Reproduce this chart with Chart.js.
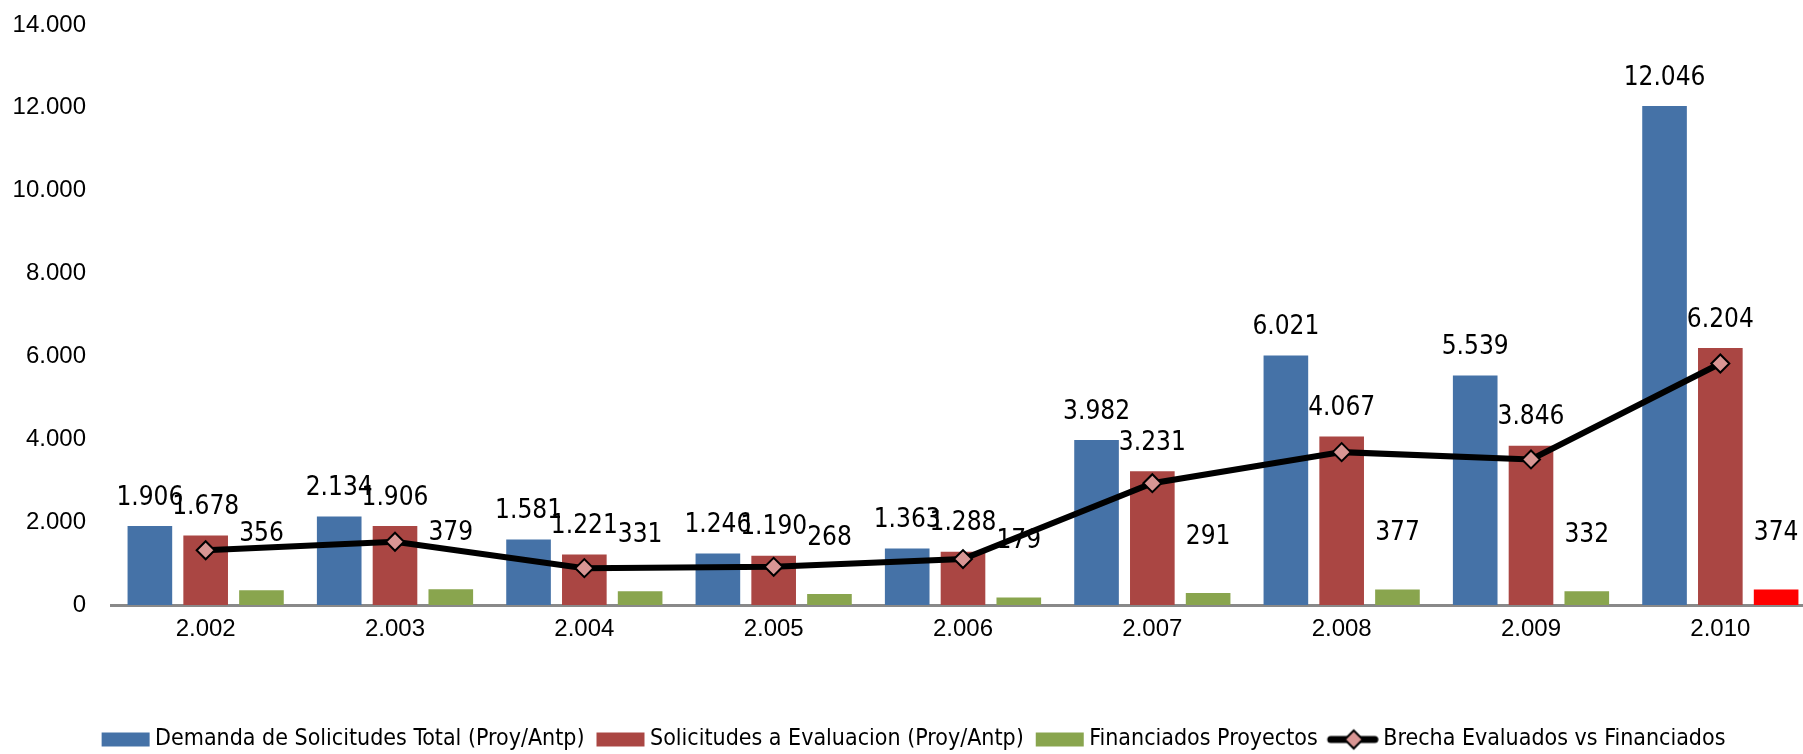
<!DOCTYPE html>
<html>
<head>
<meta charset="utf-8">
<title>Demanda de Solicitudes</title>
<script src="https://cdn.jsdelivr.net/npm/chart.js@4.4.1/dist/chart.umd.min.js"></script>
<style>
    html, body { margin: 0; padding: 0; background: #fff; overflow: hidden; }
    #wrap { position: relative; width: 1836px; height: 754px; }
</style>
</head>
<body>
<div id="wrap"><canvas id="chart"></canvas></div>
<script>
// ========== DATA ==========
const years = ['2.002', '2.003', '2.004', '2.005', '2.006', '2.007', '2.008', '2.009', '2.010'];
const demanda = [1906, 2134, 1581, 1246, 1363, 3982, 6021, 5539, 12046];
const evaluacion = [1678, 1906, 1221, 1190, 1288, 3231, 4067, 3846, 6204];
const financiados = [356, 379, 331, 268, 179, 291, 377, 332, 374];
const brecha = [1322, 1527, 890, 922, 1109, 2940, 3690, 3514, 5830];
const yTicks = [0, 2000, 4000, 6000, 8000, 10000, 12000, 14000];

const seriesNames = [
    'Demanda de Solicitudes Total (Proy/Antp)',
    'Solicitudes a Evaluacion (Proy/Antp)',
    'Financiados Proyectos',
    'Brecha Evaluados vs Financiados'
];

// ========== COLORS / FONTS ==========
const colors = {
    blue: '#4572A7',
    red: '#AA4643',
    green: '#89A54E',
    highlight: '#FF0000',
    diamond: '#D99694',
    axis: '#898989',
    text: '#000000'
};
const narrowFont = "'Liberation Sans Narrow', 'DejaVu Sans Condensed', 'Roboto Condensed', Roboto, sans-serif";
const tickFont = "'Liberation Sans', Arial, sans-serif";

function fmt(v) {
    return String(v).replace(/\B(?=(\d{3})+(?!\d))/g, '.');
}

// ========== LEGEND SWATCHES ==========
// image is centered on the legend box slot; visible swatch sits at px 19..67
function boxSwatch(color) {
    const c = document.createElement('canvas');
    c.width = 68; c.height = 16;
    const ctx = c.getContext('2d');
    ctx.fillStyle = color;
    ctx.fillRect(19, 1, 48, 14);
    return c;
}

function lineSwatch() {
    const c = document.createElement('canvas');
    c.width = 68; c.height = 24;
    const ctx = c.getContext('2d');
    ctx.strokeStyle = '#000';
    ctx.lineWidth = 7;
    ctx.lineCap = 'round';
    ctx.beginPath();
    ctx.moveTo(20, 12);
    ctx.lineTo(64, 12);
    ctx.stroke();
    ctx.beginPath();
    ctx.moveTo(43, 3); ctx.lineTo(52, 12); ctx.lineTo(43, 21); ctx.lineTo(34, 12); ctx.closePath();
    ctx.fillStyle = colors.diamond;
    ctx.fill();
    ctx.lineWidth = 2;
    ctx.stroke();
    return c;
}

const swatches = [boxSwatch(colors.blue), boxSwatch(colors.red), boxSwatch(colors.green), lineSwatch()];

// ========== VALUE LABELS ==========
const labelOffsets = [28, 28, 56];
const valueLabels = {
    id: 'valueLabels',
    afterDatasetsDraw(chart) {
        const ctx = chart.ctx;
        ctx.save();
        ctx.font = '26px ' + narrowFont;
        ctx.fillStyle = colors.text;
        ctx.textAlign = 'center';
        ctx.textBaseline = 'middle';
        [0, 1, 2].forEach(di => {
            const meta = chart.getDatasetMeta(di);
            const values = chart.data.datasets[di].data;
            meta.data.forEach((bar, i) => {
                ctx.fillText(fmt(values[i]), bar.x, bar.y - labelOffsets[di]);
            });
        });
        ctx.restore();
    }
};

// ========== CHART ==========
const greenColors = financiados.map((v, i) => i === financiados.length - 1 ? colors.highlight : colors.green);

new Chart(document.getElementById('chart'), {
    type: 'bar',
    data: {
        labels: years,
        datasets: [
            {
                label: seriesNames[0],
                data: demanda,
                backgroundColor: colors.blue,
                categoryPercentage: 0.884,
                barPercentage: 0.8,
                order: 1
            },
            {
                label: seriesNames[1],
                data: evaluacion,
                backgroundColor: colors.red,
                categoryPercentage: 0.884,
                barPercentage: 0.8,
                order: 1
            },
            {
                label: seriesNames[2],
                data: financiados,
                backgroundColor: greenColors,
                categoryPercentage: 0.884,
                barPercentage: 0.8,
                order: 1
            },
            {
                type: 'line',
                label: seriesNames[3],
                data: brecha,
                borderColor: '#000',
                borderWidth: 6,
                tension: 0,
                pointStyle: 'rectRot',
                pointRadius: 9,
                pointBackgroundColor: colors.diamond,
                pointBorderColor: '#000',
                pointBorderWidth: 2,
                order: 0
            }
        ]
    },
    options: {
        responsive: true,
        maintainAspectRatio: false,
        animation: false,
        layout: {
            padding: { top: 25, right: 21, bottom: -7, left: 0 }
        },
        plugins: {
            tooltip: { enabled: false },
            legend: {
                position: 'bottom',
                labels: {
                    usePointStyle: true,
                    pointStyleWidth: 54,
                    padding: 0,
                    color: colors.text,
                    font: { family: narrowFont, size: 23 },
                    generateLabels: (chart) => chart.data.datasets.map((ds, i) => ({
                        text: ds.label,
                        pointStyle: swatches[i],
                        datasetIndex: i,
                        hidden: false,
                        lineWidth: 0,
                        fontColor: colors.text
                    }))
                },
                onClick: () => {}
            }
        },
        scales: {
            x: {
                grid: { display: false, drawTicks: false },
                border: { display: true, color: colors.axis, width: 3 },
                ticks: {
                    color: colors.text,
                    font: { family: tickFont, size: 24 },
                    padding: 10
                },
                afterFit: (scale) => { scale.height = 123; }
            },
            y: {
                min: 0,
                max: yTicks[yTicks.length - 1],
                grid: { display: false, drawTicks: false },
                border: { display: false },
                afterBuildTicks: (scale) => {
                    scale.ticks = yTicks.map(v => ({ value: v }));
                },
                ticks: {
                    color: colors.text,
                    font: { family: tickFont, size: 24 },
                    padding: 25,
                    callback: (value) => fmt(value)
                },
                afterFit: (scale) => {
                    scale.width = 111;
                    scale.paddingTop = 12;
                    scale.paddingBottom = 12;
                }
            }
        }
    },
    plugins: [valueLabels]
});
</script>
</body>
</html>
